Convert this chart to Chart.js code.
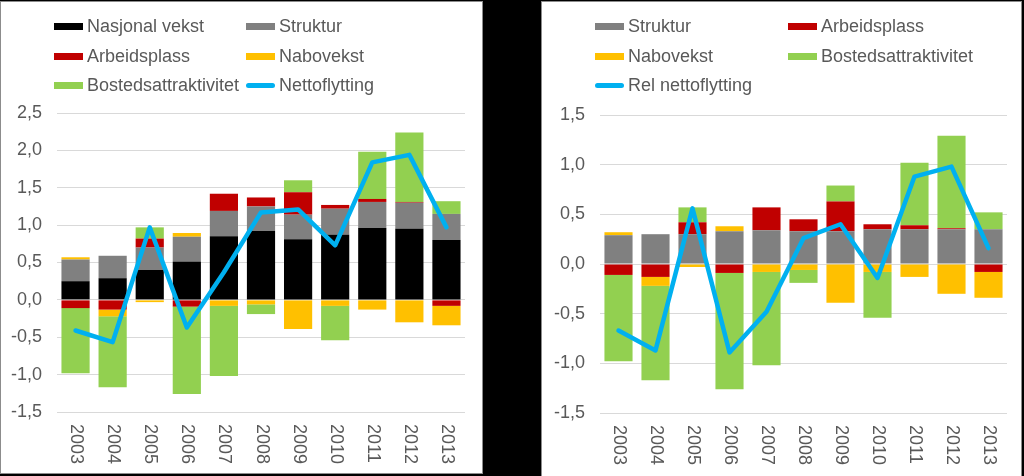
<!DOCTYPE html>
<html><head><meta charset="utf-8">
<script src="https://cdn.jsdelivr.net/npm/chart.js@4.4.0/dist/chart.umd.min.js"></script>
<style>
html,body{margin:0;padding:0;background:#000;width:1024px;height:476px;overflow:hidden;font-family:"Liberation Sans",Arial,sans-serif;}
.panel{position:absolute;background:#fff;border:1px solid #8c8c8c;box-sizing:border-box;}
canvas{position:absolute;}
.legend{position:absolute;display:grid;grid-template-columns:192px 192px;grid-auto-rows:29.5px;font-size:18px;color:#595959;}
.item{display:flex;align-items:center;white-space:nowrap;}
.sw{width:29px;height:7px;margin-right:4px;flex:none;}
.ln{height:5px;border-radius:3px;}
</style></head><body>
<div class="panel" style="left:0;top:1px;width:483px;height:473px"></div>
<div class="panel" style="left:541px;top:1px;width:481px;height:480px"></div>
<canvas id="c1" width="482" height="473" style="left:0;top:0"></canvas>
<canvas id="c2" width="482" height="476" style="left:542px;top:0"></canvas>
<div id="l1" class="legend" style="left:54px;top:12px"></div>
<div id="l2" class="legend" style="left:595px;top:12px;grid-template-columns:193px 193px"></div>
<script>
const years = ['2003','2004','2005','2006','2007','2008','2009','2010','2011','2012','2013'];
const nasjonalVekst = [0.25, 0.29, 0.40, 0.515, 0.85, 0.92, 0.81, 0.87, 0.96, 0.95, 0.80];
const struktur      = [0.29, 0.30, 0.30, 0.33, 0.34, 0.33, 0.33, 0.35, 0.35, 0.35, 0.35];
const arbeidsplass  = [-0.11, -0.13, 0.12, -0.09, 0.23, 0.12, 0.30, 0.05, 0.04, 0.01, -0.08];
const nabovekst     = [0.03, -0.09, -0.03, 0.05, -0.08, -0.06, -0.39, -0.08, -0.13, -0.30, -0.26];
const bosted        = [-0.87, -0.95, 0.15, -1.17, -0.94, -0.13, 0.16, -0.46, 0.63, 0.93, 0.17];
const nettoflytting = [-0.41, -0.565, 0.97, -0.37, 0.37, 1.17, 1.21, 0.73, 1.84, 1.94, 0.97];
const relNetto      = [-0.67, -0.87, 0.56, -0.89, -0.48, 0.26, 0.40, -0.14, 0.88, 0.98, 0.16];
const leftTicks  = {min: -1.5, max: 2.5, step: 0.5};
const rightTicks = {min: -1.5, max: 1.5, step: 0.5};

const C = {black:'#000000', gray:'#808080', red:'#c00000', orange:'#ffc000', green:'#92d050', blue:'#00b0f0'};
const FONT = '"Liberation Sans", Arial, sans-serif';
const TXT = '#595959';

function bar(label, data, color){ return {type:'bar', label, data, backgroundColor:color, borderWidth:0, order:1, barPercentage:0.76, categoryPercentage:1}; }
function line(label, data){ return {type:'line', label, data, borderColor:C.blue, backgroundColor:C.blue, borderWidth:4.5, pointRadius:0, fill:false, tension:0, order:0, stack:'line', borderJoinStyle:'round', borderCapStyle:'round'}; }

const xLabelPlugin = {
  id:'xLabels',
  afterDraw(chart){
    const sc = chart.scales.x, ctx = chart.ctx;
    ctx.save();
    ctx.font = '18px ' + FONT;
    ctx.fillStyle = TXT;
    ctx.textAlign = 'left'; ctx.textBaseline = 'middle';
    sc.getLabels().forEach((lab, i) => {
      const x = sc.getPixelForTick(i);
      ctx.save(); ctx.translate(x + 0.5, sc.top + 12); ctx.rotate(Math.PI/2); ctx.fillText(lab, 0, 0); ctx.restore();
    });
    ctx.restore();
  }
};

function makeChart(id, datasets, t, yW, xH, top, right){
  return new Chart(document.getElementById(id), {
    data:{labels:years, datasets},
    plugins:[xLabelPlugin],
    options:{
      responsive:false, animation:false, events:[],
      layout:{padding:{left:0, right, top, bottom:0}},
      plugins:{legend:{display:false}, tooltip:{enabled:false}},
      scales:{
        x:{stacked:true, grid:{display:false}, border:{display:false}, ticks:{display:false},
           afterFit(s){ s.height = xH; }},
        y:{stacked:true, min:t.min, max:t.max,
           grid:{color:'#d9d9d9', lineWidth:1, drawTicks:false}, border:{display:false},
           ticks:{stepSize:t.step, padding:15, color:TXT, font:{family:FONT, size:18},
                  callback:v => Number(v).toFixed(1).replace('.', ',')},
           afterFit(s){ s.width = yW; }}
      }
    }
  });
}

const ds1 = [bar('Nasjonal vekst', nasjonalVekst, C.black), bar('Struktur', struktur, C.gray),
  bar('Arbeidsplass', arbeidsplass, C.red), bar('Nabovekst', nabovekst, C.orange),
  bar('Bostedsattraktivitet', bosted, C.green), line('Nettoflytting', nettoflytting)];
const ds2 = [bar('Struktur', struktur, C.gray), bar('Arbeidsplass', arbeidsplass, C.red),
  bar('Nabovekst', nabovekst, C.orange), bar('Bostedsattraktivitet', bosted, C.green),
  line('Rel nettoflytting', relNetto)];

makeChart('c1', ds1, leftTicks, 57, 61, 113, 17);
makeChart('c2', ds2, rightTicks, 58, 63, 115, 17);

function legend(id, datasets){
  const el = document.getElementById(id);
  datasets.forEach(d => {
    const it = document.createElement('div'); it.className = 'item';
    const sw = document.createElement('span');
    sw.className = d.type === 'line' ? 'sw ln' : 'sw';
    sw.style.background = d.type === 'line' ? d.borderColor : d.backgroundColor;
    const tx = document.createElement('span'); tx.textContent = d.label;
    it.appendChild(sw); it.appendChild(tx); el.appendChild(it);
  });
}
legend('l1', ds1); legend('l2', ds2);
</script>
</body></html>
